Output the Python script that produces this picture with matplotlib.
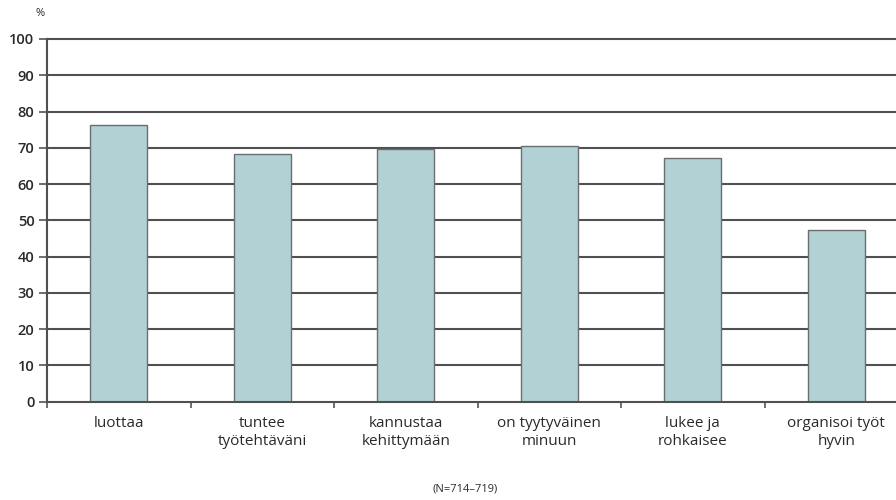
import matplotlib
matplotlib.use("Agg")
import matplotlib.pyplot as plt
import numpy as np

categories = ["luottaa", "tuntee\ntyötehtäväni", "kannustaa\nkehittymään",
              "on tyytyväinen\nminuun", "lukee ja\nrohkaisee", "organisoi työt\nhyvin"]
values = [76.4, 68.2, 69.8, 70.5, 67.3, 47.4]
yticks = list(range(0, 101, 10))
note = "(N=714–719)"

plt.rcParams["font.family"] = ["Open Sans", "DejaVu Sans"]

fig = plt.figure(figsize=(8.96, 5.0), dpi=100)
ax = fig.add_axes([47 / 896, 0.1966, 861 / 896, 0.7254])

x = np.arange(len(categories))
ax.bar(x, values, width=0.4, color="#b2d1d5", edgecolor="#6a6e70",
       linewidth=1.0, zorder=3)

ax.set_xlim(-0.5, len(categories) - 0.5)
ax.set_ylim(0, 100)
ax.set_yticks(yticks)
ax.set_yticklabels([str(t) for t in yticks], fontsize=10.5, color="#2a2a2a",
                   fontweight="semibold")
for t in yticks[1:]:
    ax.axhline(t, color="#505050", linewidth=1.5, zorder=1, clip_on=False)

ax.set_xticks(x)
ax.set_xticklabels(categories, fontsize=11, color="#2a2a2a", linespacing=1.3)
ax.set_xticks(np.arange(-0.5, len(categories), 1.0), minor=True)
ax.tick_params(axis="x", which="major", length=0, pad=10)
ax.tick_params(axis="x", which="minor", length=4, width=1.2, color="#555555",
               direction="out")
ax.tick_params(axis="y", length=6, width=1.2, color="#555555", pad=3,
               direction="out")

for side in ("top", "right"):
    ax.spines[side].set_visible(False)
for side in ("left", "bottom"):
    ax.spines[side].set_color("#505050")
    ax.spines[side].set_linewidth(1.5)
    ax.spines[side].set_zorder(4)

fig.text(40 / 896, 1 - 14 / 500, "%", fontsize=8, color="#2a2a2a",
         ha="center", va="center")
fig.text(465 / 896, 1 - 489 / 500, note, fontsize=8, color="#2a2a2a",
         ha="center", va="center")

fig.savefig("out.png", dpi=100)
